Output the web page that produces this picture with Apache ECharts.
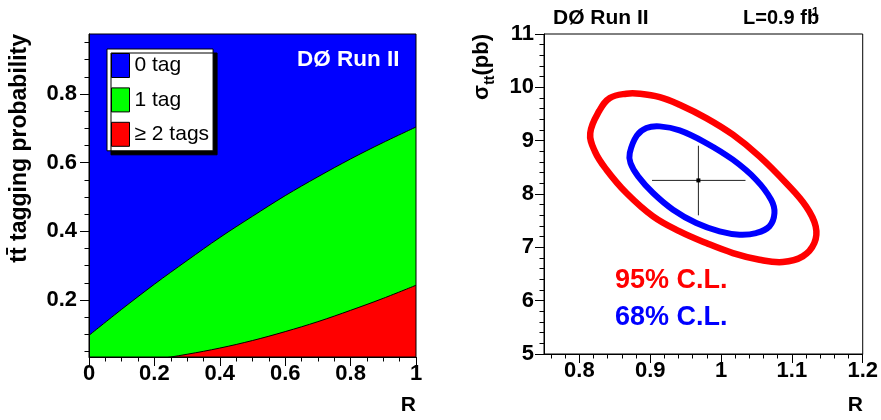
<!DOCTYPE html>
<html><head><meta charset="utf-8">
<script src="https://cdn.jsdelivr.net/npm/echarts@6.0.0/dist/echarts.min.js"></script>
<style>html,body{margin:0;padding:0;background:#fff}#c{width:881px;height:420px}</style>
</head><body><div id="c"></div>
<script>
const FONT = '"Liberation Sans", Arial, Helvetica, sans-serif';

// ---------- Left panel: ttbar tagging probability vs R ----------
const tagR = [0, 0.1, 0.2, 0.3, 0.4, 0.5, 0.6, 0.7, 0.8, 0.9, 1.0];
const probAtLeast1Tag = [0.097, 0.173, 0.246, 0.315, 0.382, 0.444, 0.504, 0.559, 0.611, 0.659, 0.704];
const probAtLeast2Tags = [0.011, 0.017, 0.027, 0.042, 0.060, 0.082, 0.108, 0.137, 0.170, 0.205, 0.243];
const tagNames = ['0 tag', '1 tag', '\u2265 2 tags'];
const leftYTickLabels = [0.2, 0.4, 0.6, 0.8];
const leftYMinorTicks = [0.05, 0.1, 0.15, 0.25, 0.3, 0.35, 0.45, 0.5, 0.55, 0.65, 0.7, 0.75, 0.85, 0.9, 0.95];

// ---------- Right panel: sigma_tt vs R contours ----------
const contour95 = [
  [0.8153, 9.143], [0.8282, 9.562], [0.8430, 9.799], [0.8664, 9.881], [0.8852, 9.881],
  [0.9134, 9.818], [0.9415, 9.674], [0.9791, 9.424], [1.0167, 9.112], [1.0542, 8.706],
  [1.0918, 8.206], [1.1200, 7.768], [1.1336, 7.393], [1.1317, 7.080], [1.1153, 6.830],
  [1.0871, 6.724], [1.0542, 6.768], [1.0167, 6.893], [0.9791, 7.080], [0.9415, 7.299],
  [0.9040, 7.580], [0.8664, 8.018], [0.8382, 8.455], [0.8218, 8.799]
];
const contour68 = [
  [0.8711, 8.768], [0.8810, 9.093], [0.8946, 9.237], [0.9134, 9.268], [0.9415, 9.193],
  [0.9791, 8.956], [1.0167, 8.643], [1.0495, 8.268], [1.0707, 7.893], [1.0754, 7.643],
  [1.0683, 7.393], [1.0495, 7.268], [1.0261, 7.237], [0.9979, 7.299], [0.9650, 7.455],
  [0.9322, 7.705], [0.9040, 8.018], [0.8829, 8.330], [0.8721, 8.581]
];
const bestFit = [0.968, 8.255];
const bestFitRRange = [0.9025, 1.0345];
const bestFitSigmaRange = [7.60, 8.905];
const rightXTickLabels = [0.8, 0.9, 1, 1.1, 1.2];
const rightXMinorTicks = [0.76, 0.78, 0.82, 0.84, 0.86, 0.88, 0.92, 0.94, 0.96, 0.98,
  1.02, 1.04, 1.06, 1.08, 1.12, 1.14, 1.16, 1.18];

// cumulative boundaries for the filled areas
const p2 = probAtLeast2Tags;
const p1 = probAtLeast1Tag.map((v, i) => v - probAtLeast2Tags[i]);
const p0 = probAtLeast1Tag.map(v => 1 - v);
const cum = [
  tagR.map((r, i) => [r, p0[i] + p1[i] + p2[i]]),
  tagR.map((r, i) => [r, p1[i] + p2[i]]),
  tagR.map((r, i) => [r, p2[i]])
];
const fillColors = ['#0000ff', '#00ff00', '#ff0000'];

const black = {color: '#000', width: 1};
const lbl = {fontFamily: FONT, fontSize: 22, fontWeight: 'bold', color: '#000'};

const chart = echarts.init(document.getElementById('c'), null, {renderer: 'canvas'});
chart.setOption({
  animation: false,
  backgroundColor: '#fff',
  textStyle: {fontFamily: FONT},
  grid: [
    {left: 89, top: 34, width: 327, height: 323, show: true, borderColor: '#000', borderWidth: 1, backgroundColor: 'transparent', z: 6},
    {left: 544, top: 34, width: 320, height: 320, show: true, borderColor: '#000', borderWidth: 1, backgroundColor: 'transparent'}
  ],
  xAxis: [
    {gridIndex: 0, type: 'value', min: 0, max: 1, interval: 0.2, position: 'bottom', z: 6,
     axisLine: {show: true, onZero: false, lineStyle: black},
     axisTick: {show: true, length: 9, lineStyle: black},
     minorTick: {show: true, splitNumber: 4, length: 4.5, lineStyle: black},
     axisLabel: Object.assign({margin: 6}, lbl),
     splitLine: {show: false}},
    {gridIndex: 1, type: 'value', min: 0.75, max: 1.2, position: 'bottom',
     axisLine: {show: true, onZero: false, lineStyle: black},
     axisTick: {show: true, length: 9, lineStyle: black, customValues: rightXTickLabels},
     axisLabel: Object.assign({margin: 6, customValues: rightXTickLabels}, lbl),
     splitLine: {show: false}},
    {gridIndex: 1, type: 'value', min: 0.75, max: 1.2, position: 'bottom',
     axisLine: {show: false, onZero: false},
     axisTick: {show: true, length: 4.5, lineStyle: black, customValues: rightXMinorTicks},
     axisLabel: {show: false},
     splitLine: {show: false}}
  ],
  yAxis: [
    {gridIndex: 0, type: 'value', min: 0.034, max: 0.975, position: 'left', z: 6,
     axisLine: {show: true, onZero: false, lineStyle: black},
     axisTick: {show: true, length: 9, lineStyle: black, customValues: leftYTickLabels},
     axisLabel: Object.assign({margin: 12, customValues: leftYTickLabels}, lbl),
     splitLine: {show: false}},
    {gridIndex: 0, type: 'value', min: 0.034, max: 0.975, position: 'left', z: 6,
     axisLine: {show: false, onZero: false},
     axisTick: {show: true, length: 4.5, lineStyle: black, customValues: leftYMinorTicks},
     axisLabel: {show: false},
     splitLine: {show: false}},
    {gridIndex: 1, type: 'value', min: 5, max: 11, interval: 1, position: 'left',
     axisLine: {show: true, onZero: false, lineStyle: black},
     axisTick: {show: true, length: 9, lineStyle: black},
     minorTick: {show: true, splitNumber: 5, length: 4.5, lineStyle: black},
     axisLabel: Object.assign({margin: 10}, lbl),
     splitLine: {show: false}}
  ],
  legend: {
    left: 107, top: 49, orient: 'vertical', padding: 4, itemGap: 9.4,
    itemWidth: 18, itemHeight: 24, icon: 'rect', selectedMode: false,
    backgroundColor: '#fff', borderColor: '#000', borderWidth: 1,
    shadowColor: '#000', shadowOffsetX: 4, shadowOffsetY: 4, shadowBlur: 0.01,
    textStyle: {fontFamily: FONT, fontSize: 21, color: '#000'},
    data: tagNames.map((n, i) => ({name: n, icon: 'rect',
      itemStyle: {color: fillColors[i], borderColor: '#000', borderWidth: 1}}))
  },
  series: [
    ...tagNames.map((n, i) => ({
      name: n, type: 'line', xAxisIndex: 0, yAxisIndex: 0,
      data: cum[i], smooth: 0.35, symbol: 'none', clip: true, z: 2 + i * 0.1,
      itemStyle: {color: fillColors[i]},
      lineStyle: {color: '#000', width: i === 0 ? 0 : 1},
      areaStyle: {color: fillColors[i], opacity: 1, origin: 'start'}
    })),
    {type: 'custom', xAxisIndex: 1, yAxisIndex: 2, data: [[0]], silent: true, clip: true,
     renderItem: (params, api) => ({
       type: 'group', children: [
         {type: 'polygon', shape: {points: contour95.map(p => api.coord(p)), smooth: 0.4},
          style: {fill: 'none', stroke: '#ff0000', lineWidth: 6.5}},
         {type: 'polygon', shape: {points: contour68.map(p => api.coord(p)), smooth: 0.4},
          style: {fill: 'none', stroke: '#0000ff', lineWidth: 6}}
       ]})},
    {type: 'custom', xAxisIndex: 1, yAxisIndex: 2, data: [bestFit], silent: true,
     renderItem: (params, api) => {
       const c = api.coord([api.value(0), api.value(1)]);
       const l = api.coord([bestFitRRange[0], bestFit[1]]);
       const r = api.coord([bestFitRRange[1], bestFit[1]]);
       const t = api.coord([bestFit[0], bestFitSigmaRange[1]]);
       const b = api.coord([bestFit[0], bestFitSigmaRange[0]]);
       return {type: 'group', children: [
         {type: 'line', shape: {x1: l[0], y1: c[1], x2: r[0], y2: c[1]}, style: {stroke: '#222', lineWidth: 1}},
         {type: 'line', shape: {x1: c[0], y1: t[1], x2: c[0], y2: b[1]}, style: {stroke: '#222', lineWidth: 1}},
         {type: 'rect', shape: {x: c[0] - 2, y: c[1] - 2, width: 4, height: 4}, style: {fill: '#000'}}
       ]};
     }}
  ],
  graphic: [
    {type: 'text', x: 297, y: 60, z: 100, style: {text: 'D\u00D8 Run II', font: 'bold 22.5px ' + FONT, fill: '#fff', verticalAlign: 'middle'}},
    {type: 'text', x: 416, y: 405, z: 100, style: {text: 'R', font: 'bold 21px ' + FONT, fill: '#000', align: 'right', verticalAlign: 'middle'}},
    {type: 'text', x: 20, y: 34, rotation: Math.PI / 2, z: 100, style: {text: 'tt\u0304 tagging probability', font: 'bold 23px ' + FONT, fill: '#000', align: 'right', verticalAlign: 'middle'}},
    {type: 'text', x: 553, y: 18, z: 100, style: {text: 'D\u00D8 Run II', font: 'bold 21px ' + FONT, fill: '#000', verticalAlign: 'middle'}},
    {type: 'text', x: 743, y: 18.5, z: 100, style: {text: 'L=0.9 fb', font: 'bold 20px ' + FONT, fill: '#000', verticalAlign: 'middle'}},
    {type: 'text', x: 808, y: 12.5, z: 100, style: {text: '-1', font: 'bold 12px ' + FONT, fill: '#000', verticalAlign: 'middle'}},
    {type: 'text', x: 863, y: 405, z: 100, style: {text: 'R', font: 'bold 21px ' + FONT, fill: '#000', align: 'right', verticalAlign: 'middle'}},
    {type: 'text', x: 482, y: 34, rotation: Math.PI / 2, z: 100, style: {text: '{a|\u03C3}{b|tt}{a|(pb)}', fill: '#000', align: 'right', verticalAlign: 'middle',
      rich: {a: {font: 'bold 22px ' + FONT, fill: '#000', lineHeight: 30}, b: {font: 'bold 14px ' + FONT, fill: '#000', verticalAlign: 'bottom', lineHeight: 30}}}},
    {type: 'text', x: 615, y: 281, z: 100, style: {text: '95% C.L.', font: 'bold 27px ' + FONT, fill: '#ff0000', verticalAlign: 'middle'}},
    {type: 'text', x: 615, y: 318, z: 100, style: {text: '68% C.L.', font: 'bold 27px ' + FONT, fill: '#0000ff', verticalAlign: 'middle'}}
  ]
});
</script></body></html>
